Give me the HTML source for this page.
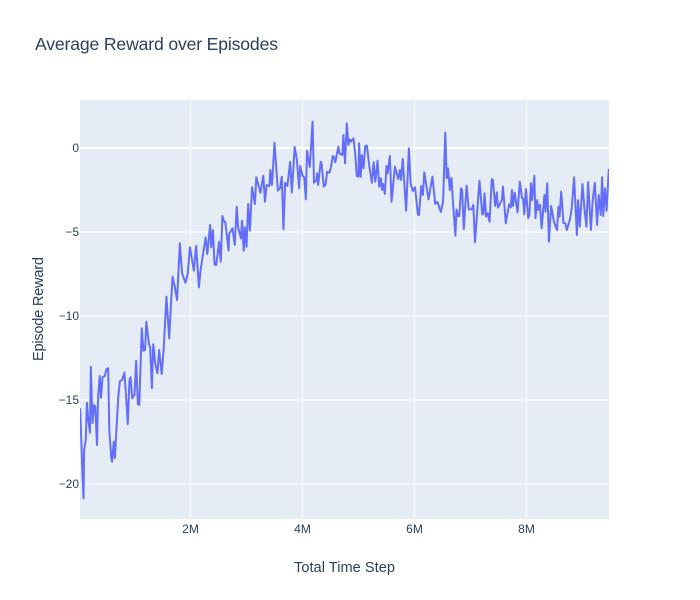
<!DOCTYPE html>
<html lang="en">
<head>
<meta charset="utf-8">
<title>Average Reward over Episodes</title>
<style>
html,body{margin:0;padding:0;background:#fff;width:700px;height:600px;overflow:hidden}
svg{display:block}
text{font-family:"Liberation Sans",sans-serif;fill:#2a3f5f}
</style>
</head>
<body>
<svg id="chart" width="700" height="600" viewBox="0 0 700 600" xmlns="http://www.w3.org/2000/svg">
  <rect x="0" y="0" width="700" height="600" fill="#ffffff"/>
  <rect x="80" y="100" width="529" height="419" fill="#E5ECF6"/>
  <g id="grid"></g>
  <defs><clipPath id="plot-clip"><rect x="80" y="100" width="529" height="419"/></clipPath></defs>
  <path id="series" clip-path="url(#plot-clip)" fill="none" stroke="#636efa" stroke-width="2" stroke-linejoin="round"/>
  <g id="x-ticks"></g>
  <g id="y-ticks"></g>
  <text x="35" y="50" font-size="17.6" textLength="243" lengthAdjust="spacing">Average Reward over Episodes</text>
  <text x="294" y="572" font-size="14.6" textLength="101" lengthAdjust="spacing">Total Time Step</text>
  <text transform="translate(43,361) rotate(-90)" font-size="14.6" textLength="104" lengthAdjust="spacing">Episode Reward</text>
</svg>
<script>
const timeSteps = [0.03,0.07,0.09,0.10,0.13,0.15,0.175,0.205,0.22,0.25,0.28,0.30,0.33,0.35,0.38,0.40,0.43,0.47,0.50,0.53,0.55,0.585,0.60,0.63,0.65,0.71,0.74,0.78,0.82,0.85,0.88,0.91,0.93,0.96,1.00,1.03,1.06,1.085,1.13,1.16,1.19,1.21,1.26,1.28,1.31,1.335,1.37,1.41,1.44,1.485,1.52,1.57,1.62,1.65,1.68,1.72,1.76,1.81,1.85,1.91,1.95,1.99,2.06,2.10,2.15,2.18,2.27,2.30,2.35,2.37,2.40,2.43,2.46,2.51,2.54,2.57,2.60,2.62,2.68,2.69,2.75,2.79,2.825,2.85,2.90,2.92,2.95,2.97,3.00,3.03,3.06,3.10,3.15,3.175,3.25,3.30,3.33,3.36,3.41,3.425,3.455,3.50,3.56,3.60,3.63,3.66,3.69,3.73,3.78,3.81,3.86,3.90,3.94,3.96,4.00,4.03,4.06,4.08,4.13,4.18,4.205,4.25,4.26,4.28,4.325,4.34,4.38,4.41,4.44,4.48,4.51,4.54,4.56,4.585,4.64,4.66,4.71,4.73,4.76,4.79,4.82,4.84,4.87,4.91,4.94,4.97,5.00,5.01,5.04,5.06,5.09,5.12,5.15,5.19,5.24,5.27,5.30,5.34,5.37,5.40,5.42,5.44,5.47,5.50,5.52,5.56,5.59,5.65,5.71,5.74,5.76,5.79,5.85,5.90,5.93,5.97,6.01,6.06,6.08,6.12,6.15,6.175,6.25,6.32,6.37,6.41,6.47,6.51,6.55,6.575,6.60,6.63,6.66,6.69,6.73,6.75,6.78,6.80,6.83,6.85,6.88,6.93,6.97,7.02,7.05,7.08,7.16,7.21,7.23,7.25,7.28,7.31,7.34,7.38,7.40,7.44,7.47,7.49,7.56,7.58,7.63,7.69,7.72,7.74,7.76,7.79,7.84,7.88,7.92,7.94,7.96,7.99,8.03,8.05,8.08,8.10,8.14,8.16,8.19,8.21,8.24,8.27,8.32,8.34,8.37,8.40,8.44,8.49,8.545,8.57,8.59,8.62,8.66,8.69,8.72,8.78,8.81,8.85,8.90,8.92,8.95,9.00,9.03,9.07,9.10,9.15,9.18,9.22,9.26,9.29,9.325,9.35,9.37,9.40,9.43,9.47];
const rewards = [-15.49,-19.35,-20.85,-17.98,-17.38,-15.16,-16.19,-16.95,-13.02,-16.37,-15.3,-15.4,-17.68,-14.8,-13.57,-14.88,-13.63,-13.57,-13.15,-13.11,-16.79,-18.45,-18.67,-17.48,-18.45,-14.8,-13.87,-13.81,-13.37,-14.8,-16.43,-13.81,-13.65,-14.9,-14.7,-12.66,-15.24,-15.3,-10.73,-12.07,-12.02,-10.34,-11.73,-11.83,-14.3,-11.68,-12.82,-13.41,-12.02,-13.45,-12.02,-8.85,-11.33,-9.35,-7.66,-8.26,-9.05,-5.67,-7.46,-8.02,-7.5,-5.91,-7.3,-5.83,-8.29,-7.26,-5.32,-6.31,-4.58,-5.91,-4.88,-6.96,-6.96,-5.58,-6.77,-4.05,-4.39,-4.39,-6.11,-5.12,-4.78,-5.77,-3.49,-4.72,-5.38,-4.33,-6.11,-4.72,-5.88,-3.33,-4.92,-2.34,-3.33,-1.74,-2.66,-1.65,-3.2,-2.2,-2.26,-1.31,-2.2,0.32,-2.54,-2.38,-1.71,-4.84,-2.07,-2.26,-0.82,-2.65,0.06,-0.71,-2.4,-1.07,-1.65,-1.73,-3.05,-0.16,-1.13,1.57,-2.07,-1.9,-1.51,-2.2,-0.82,-0.91,-2.3,-2.2,-1.41,-1.47,-1.11,-0.48,-0.52,-0.85,0.08,-0.32,-0.42,0.77,-0.91,1.47,0.18,0.52,0.38,0.58,-0.32,-1.67,-1.71,0.28,-1.71,-0.42,-1.21,0.12,0.14,-1.01,-2.07,-0.85,-2.01,-0.76,-2.3,-1.8,-2.5,-2.14,-2.74,-1.07,-1.51,-0.48,-3.2,-1.11,-1.86,-1.31,-1.9,-0.65,-3.73,-0.02,-2.1,-2.56,-2.34,-3.95,-3.99,-2.26,-2.8,-1.45,-3.05,-1.71,-3.33,-3.21,-3.81,-3.2,0.91,-1.8,-1.21,-2.5,-1.77,-3.39,-5.22,-3.66,-4.05,-4.05,-2.4,-2.5,-4.84,-2.24,-3.65,-3.65,-3.39,-5.61,-1.95,-3.95,-3.95,-2.7,-4.09,-3.89,-4.39,-1.86,-1.9,-3.45,-2.64,-3.55,-3.1,-2.3,-4.48,-3.35,-3.53,-2.5,-3.45,-2.66,-3.83,-2.01,-2.99,-2.99,-3.95,-2.44,-4.18,-3.99,-2.1,-3.1,-1.65,-4.18,-3.1,-3.69,-3.39,-4.78,-2.8,-3.79,-2.1,-5.58,-3.45,-4.39,-4.88,-3.49,-4.09,-2.6,-4.45,-4.48,-4.88,-4.18,-3.49,-1.74,-5.18,-3.1,-4.68,-2.14,-3.45,-4.68,-2.02,-4.88,-3.2,-2.07,-4.58,-2.8,-3.99,-1.74,-4.05,-2.4,-3.73,-1.25];
const xTickValues = [2,4,6,8];
const xTickLabels = ['2M','4M','6M','8M'];
const yTickValues = [0,-5,-10,-15,-20];
const yTickLabels = ['0','\u22125','\u221210','\u221215','\u221220'];

const NS = 'http://www.w3.org/2000/svg';
function xScale(m){ return 190.5 + (m - 2) * 56; }
function yScale(v){ return 148 - v * 16.8; }

const grid = document.getElementById('grid');
xTickValues.forEach(function(t){
  const l = document.createElementNS(NS,'line');
  
  
  l.setAttribute('x1', xScale(t)); l.setAttribute('x2', xScale(t));
  l.setAttribute('y1', 100); l.setAttribute('y2', 519);
  l.setAttribute('stroke', '#ffffff'); l.setAttribute('stroke-width', 1);
  grid.appendChild(l);
});
yTickValues.forEach(function(t){
  const l = document.createElementNS(NS,'line');
  
  
  l.setAttribute('x1', 80); l.setAttribute('x2', 609);
  l.setAttribute('y1', yScale(t)); l.setAttribute('y2', yScale(t));
  l.setAttribute('stroke', '#ffffff'); l.setAttribute('stroke-width', t === 0 ? 2 : 1);
  grid.appendChild(l);
});

const xTicks = document.getElementById('x-ticks');
xTickValues.forEach(function(t,i){
  const s = document.createElementNS(NS,'text');
  
  
  s.setAttribute('x', xScale(t)); s.setAttribute('y', 533);
  s.setAttribute('text-anchor', 'middle'); s.setAttribute('font-size', 12);
  s.textContent = xTickLabels[i];
  xTicks.appendChild(s);
});
const yTicks = document.getElementById('y-ticks');
yTickValues.forEach(function(t,i){
  const s = document.createElementNS(NS,'text');
  
  
  s.setAttribute('x', 79); s.setAttribute('y', yScale(t) + 4.2);
  s.setAttribute('text-anchor', 'end'); s.setAttribute('font-size', 12);
  s.textContent = yTickLabels[i];
  yTicks.appendChild(s);
});

document.getElementById('series').setAttribute('d', timeSteps.map(function(m,i){
  return (i ? 'L' : 'M') + xScale(m).toFixed(2) + ',' + yScale(rewards[i]).toFixed(2);
}).join(''));
</script>
</body>
</html>
